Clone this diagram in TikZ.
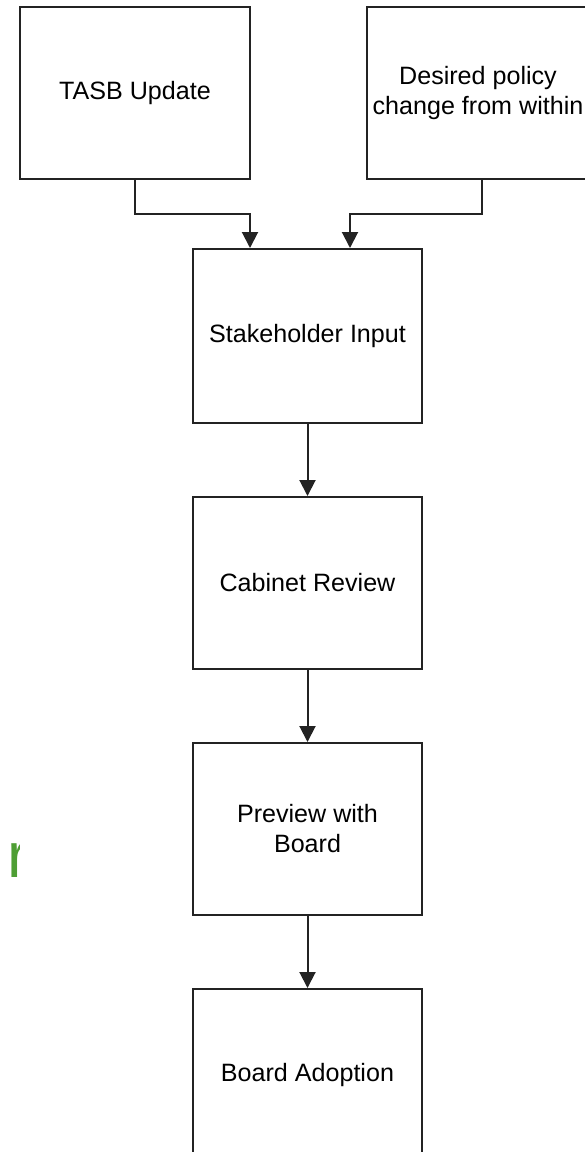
\documentclass[tikz,border=0pt]{standalone}
\usepackage{fontspec}
\setmainfont{Liberation Sans}
\usetikzlibrary{positioning, arrows.meta}
\definecolor{linegray}{RGB}{35,35,35}
\definecolor{leafgreen}{RGB}{78,158,52}
\tikzstyle{process} = [rectangle, minimum width=229pt, minimum height=172pt, text centered, align=center, draw=linegray, line width=2pt, font=\fontsize{25.1}{30}\selectfont]
\tikzstyle{arrow} = [line width=2pt, draw=linegray, -{Triangle[width=16pt,length=16pt]}]

\begin{document}
\begin{tikzpicture}[x=1pt, y=-1pt]
	\useasboundingbox (0,0) rectangle (585,1152);
	\node (tasb) [process, minimum width=230pt] at (135,93) {TASB Update};
	\node (want) [process, minimum width=222pt, right=115pt of tasb] {Desired policy\\change from within};
	\node (input) [process, minimum height=174pt] at (307.5,336) {Stakeholder Input};
	\node (cab) [process, below=72pt of input] {Cabinet Review};
	\node (prev) [process, below=72pt of cab] {Preview with\\Board};
	\node (adopt) [process, below=72pt of prev] {Board Adoption};
	\draw [arrow] (tasb.south) -- ++(0,34) -| ([xshift=-57.5pt]input.north);
	\draw [arrow] ([xshift=4pt]want.south) -- ++(0,34) -| ([xshift=42.5pt]input.north);
	\draw [arrow] (input) -- (cab);
	\draw [arrow] (cab) -- (prev);
	\draw [arrow] (prev) -- (adopt);
	%cut-off green letter at the left edge
	\begin{scope}
		\clip (0,820) rectangle (19,900);
		\node (stray) [anchor=base west, inner sep=0pt, text=leafgreen, font=\fontsize{64}{64}\selectfont] at (7.5,877) {r};
	\end{scope}
\end{tikzpicture}
\end{document}
